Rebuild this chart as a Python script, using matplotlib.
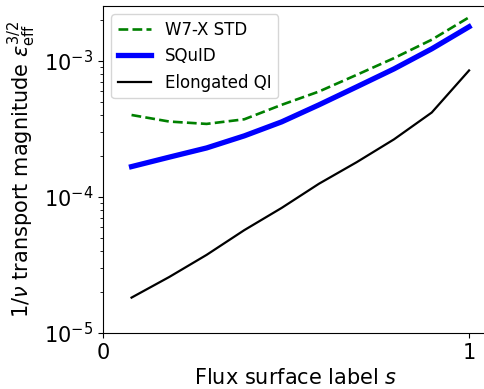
import matplotlib
matplotlib.use("Agg")
import matplotlib.pyplot as plt
import numpy as np

# flux surface label s
s = [0.078, 0.181, 0.283, 0.386, 0.488, 0.590, 0.693, 0.795, 0.898, 1.0]

# effective ripple eps_eff^(3/2) for each configuration
w7x_std = [4.0e-4, 3.58e-4, 3.44e-4, 3.72e-4, 4.75e-4, 5.95e-4, 7.89e-4, 1.047e-3, 1.43e-3, 2.09e-3]
squid = [1.67e-4, 1.96e-4, 2.29e-4, 2.81e-4, 3.56e-4, 4.75e-4, 6.44e-4, 8.73e-4, 1.225e-3, 1.78e-3]
elongated_qi = [1.82e-5, 2.58e-5, 3.75e-5, 5.7e-5, 8.3e-5, 1.25e-4, 1.8e-4, 2.65e-4, 4.17e-4, 8.5e-4]

fig = plt.figure(figsize=(4.84, 3.89), dpi=100)
ax = fig.add_axes([0.2128, 0.144, 0.7972, 0.8406])

ax.plot(s, w7x_std, '--', color='green', linewidth=1.9, label='W7-X STD')
ax.plot(s, squid, '-', color='blue', linewidth=3.8, label='SQuID')
ax.plot(s, elongated_qi, '-', color='black', linewidth=1.6, label='Elongated QI')

ax.set_yscale('log')
ax.set_ylim(1e-5, 2.53e-3)
ax.set_xlim(0, 1.054)
ax.set_xticks([0, 1])
ax.set_xticklabels(['0', '1'])

ax.tick_params(axis='both', labelsize=15)
ax.set_xlabel(r'Flux surface label $s$', fontsize=15)
ax.set_ylabel(r'$1/\nu$ transport magnitude $\varepsilon_{\rm eff}^{3/2}$', fontsize=15)

ax.legend(loc='upper left', fontsize=12)

fig.savefig('out.png', dpi=100)
